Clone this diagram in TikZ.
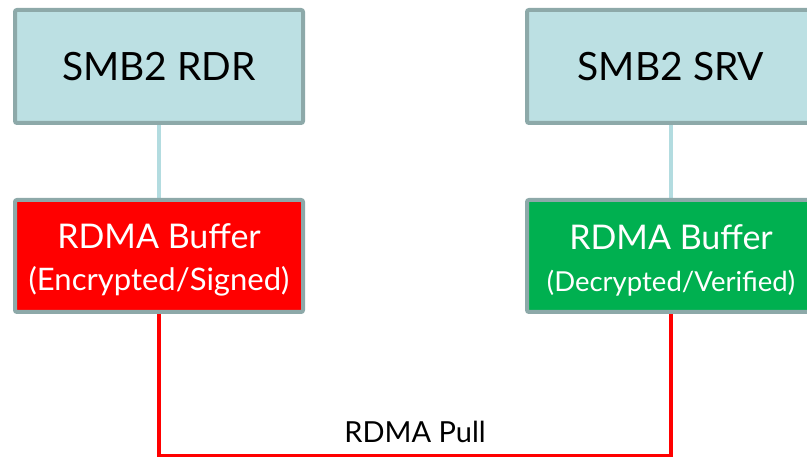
\documentclass[tikz,border=0pt]{standalone}
\usepackage{fontspec}
\setmainfont{Lato}
\definecolor{boxfill}{HTML}{BCE0E3}
\definecolor{boxline}{HTML}{8DA9A9}
\definecolor{connline}{HTML}{B3DCE0}
\definecolor{encred}{HTML}{FF0000}
\definecolor{decgreen}{HTML}{00B050}
\begin{document}
\begin{tikzpicture}[x=1pt,y=-1pt,
  topbox/.style={draw=boxline, line width=4pt, fill=boxfill, rounded corners=2pt,
    minimum width=288pt, minimum height=113pt, inner sep=0pt,
    font=\fontsize{39}{44}\selectfont, text=black},
  bufbox/.style={draw=boxline, line width=4pt, rounded corners=2pt,
    minimum width=288pt, minimum height=112pt, inner sep=0pt, align=center, text=white},
  buftext/.style={align=center, text=white, inner sep=0pt, font=\fontsize{34}{42}\selectfont},
  conn/.style={draw=connline, line width=4.5pt},
  pull/.style={draw=encred, line width=4.5pt}]
\useasboundingbox (0,0) rectangle (807,457);
\clip (0,0) rectangle (807,457);
\coordinate (bl) at (159,456);
\node[topbox] (rdr) at (159,66.5) {SMB2 RDR};
\node[topbox] (srv) at (671,66.5) {SMB2 SRV};
\draw[conn] (rdr.south) -- (159,198) coordinate (lt);
\draw[conn] (srv.south) -- (671,198) coordinate (rt);
\node[bufbox, fill=encred, anchor=north] (lbuf) at (lt) {};
\node[bufbox, fill=decgreen, anchor=north] (rbuf) at (rt) {};
\draw[pull] (lbuf.south) -- (bl) -| (rbuf.south);
\node[buftext] (ltxt) at (159,260)
  {RDMA Buffer\\{\fontsize{31}{42}\selectfont (Encrypted/Signed)}};
\node[buftext] (rtxt) at (671,260)
  {RDMA Buffer\\{\fontsize{27.5}{42}\selectfont (Decrypted/Verified)}};
\node[font=\fontsize{29}{34}\selectfont] (pulltxt) at (415,432) {RDMA Pull};
\end{tikzpicture}
\end{document}
